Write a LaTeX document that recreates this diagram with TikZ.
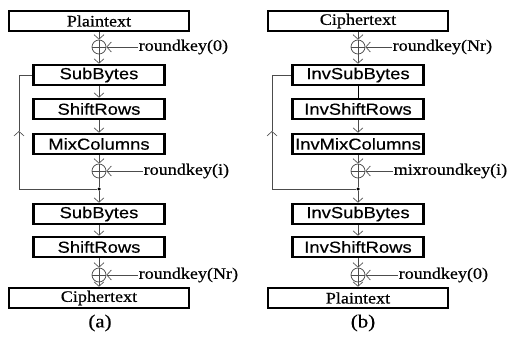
\documentclass[tikz,border=0pt]{standalone}
\usepackage{fontspec}
\setmainfont{Liberation Serif}[FakeStretch=1.13,FakeBold=0.5]
\newfontfamily\boxsans{Liberation Sans}[FakeStretch=1.15,FakeBold=0.4]
\usetikzlibrary{arrows.meta}

\begin{document}
\begin{tikzpicture}[x=1pt,y=-1pt,
  conn/.style={draw=black!70, line width=0.75pt},
  arr/.style={conn, -{Straight Barb[length=4.5pt,width=10pt,line width=0.65pt]}},
  wide/.style={draw, line width=2.6pt, minimum width=180pt, minimum height=20pt,
    inner sep=0pt, font=\fontsize{16}{18}\selectfont},
  stage/.style={draw, line width=2.6pt, minimum width=131pt, minimum height=20pt,
    inner sep=0pt, font=\boxsans\fontsize{16}{18}\selectfont},
  xor/.style={circle, draw=black!70, line width=0.75pt, minimum size=14pt, inner sep=0pt,
    path picture={\draw[black!70, line width=0.75pt]
      (path picture bounding box.west) -- (path picture bounding box.east)
      (path picture bounding box.north) -- (path picture bounding box.south);}},
  keytext/.style={anchor=west, inner sep=0.5pt, font=\fontsize{16}{18}\selectfont},
  junc/.style={circle, fill=black, minimum size=3.5pt, inner sep=0pt},
  sublabel/.style={font=\fontsize{18.5}{20}\selectfont}
]
\useasboundingbox (0,0) rectangle (510,347);

% ---------- (a) encryption ----------
\node[wide]  (pA)   at (99,21)  {Plaintext};
\node[xor]   (xA0)  at (99,47)  {};
\node[keytext] (kA0) at (138,47) {roundkey(0)};
\node[stage] (sbA)  at (99,75)  {SubBytes};
\node[stage] (srA)  at (99,109) {ShiftRows};
\node[stage] (mcA)  at (99,144) {MixColumns};
\node[xor]   (xA1)  at (99,171) {};
\node[keytext] (kA1) at (143,171) {roundkey(i)};
\node[junc]  (jA)   at (99,189) {};
\node[stage] (sbA2) at (99,214) {SubBytes};
\node[stage] (srA2) at (99,247) {ShiftRows};
\node[xor]   (xA2)  at (99,275) {};
\node[keytext] (kA2) at (138,275) {roundkey(Nr)};
\node[wide]  (cA)   at (99,298) {Ciphertext};
\node[sublabel] (labA) at (100,323) {(a)};

\coordinate (lA1) at (19,189);
\coordinate (lA2) at (19,131);
\coordinate (lA3) at (19,75);

\draw[arr] (pA) -- (xA0);
\draw[arr] (kA0.west) -- (xA0.east);
\draw[arr] (xA0) -- (sbA);
\draw[arr] (sbA) -- (srA);
\draw[arr] (srA) -- (mcA);
\draw[arr] (mcA) -- (xA1);
\draw[arr] (kA1.west) -- (xA1.east);
\draw[conn] (xA1) -- (jA);
\draw[arr] (jA) -- (sbA2);
\draw[arr] (sbA2) -- (srA2);
\draw[arr] (srA2) -- (xA2);
\draw[arr] (kA2.west) -- (xA2.east);
\draw[arr] (xA2) -- (cA);
\draw[conn] (jA) -- (lA1);
\draw[arr] (lA1) -- (lA2);
\draw[conn] (lA2) -- (lA3) -- (sbA.west);

% ---------- (b) decryption ----------
\node[wide]  (cB)   at (358,21)  {Ciphertext};
\node[xor]   (xB0)  at (358,47)  {};
\node[keytext] (kB0) at (392,47) {roundkey(Nr)};
\node[stage] (sbB)  at (358,75)  {InvSubBytes};
\node[stage] (srB)  at (358,109) {InvShiftRows};
\node[stage] (mcB)  at (358,144) {InvMixColumns};
\node[xor]   (xB1)  at (358,171) {};
\node[keytext] (kB1) at (393,171) {mixroundkey(i)};
\node[junc]  (jB)   at (358,189) {};
\node[stage] (sbB2) at (358,214) {InvSubBytes};
\node[stage] (srB2) at (358,247) {InvShiftRows};
\node[xor]   (xB2)  at (358,275) {};
\node[keytext] (kB2) at (398,275) {roundkey(0)};
\node[wide]  (pB)   at (358,298) {Plaintext};
\node[sublabel] (labB) at (363,323) {(b)};

\coordinate (lB1) at (272,189);
\coordinate (lB2) at (272,131);
\coordinate (lB3) at (272,75);

\draw[arr] (cB) -- (xB0);
\draw[arr] (kB0.west) -- (xB0.east);
\draw[arr] (xB0) -- (sbB);
\draw[draw=black, line width=1pt] (sbB) -- (srB);
\draw[arr] (srB) -- (mcB);
\draw[arr] (mcB) -- (xB1);
\draw[arr] (kB1.west) -- (xB1.east);
\draw[conn] (xB1) -- (jB);
\draw[arr] (jB) -- (sbB2);
\draw[arr] (sbB2) -- (srB2);
\draw[arr] (srB2) -- (xB2);
\draw[arr] (kB2.west) -- (xB2.east);
\draw[arr] (xB2) -- (pB);
\draw[conn] (jB) -- (lB1);
\draw[arr] (lB1) -- (lB2);
\draw[conn] (lB2) -- (lB3) -- (sbB.west);
\end{tikzpicture}
\end{document}
